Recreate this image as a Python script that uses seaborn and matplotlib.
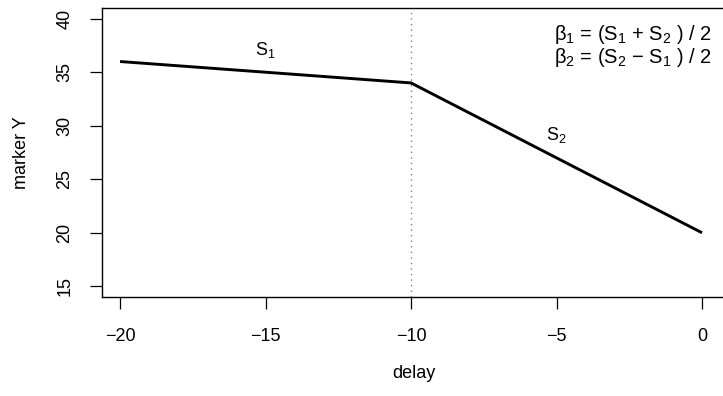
import matplotlib
matplotlib.use("Agg")
import matplotlib.pyplot as plt
import seaborn as sns
import pandas as pd

# Broken-stick trajectory: slope S1 before the change point, S2 after it
delay = [-20, -10, 0]
marker_y = [36, 34, 20]
change_point = -10

x_ticks = [-20, -15, -10, -5, 0]
y_ticks = [15, 20, 25, 30, 35, 40]

sns.set_style("ticks")
plt.rcParams["font.family"] = ["Liberation Sans", "DejaVu Sans"]
plt.rcParams["mathtext.fontset"] = "custom"
plt.rcParams["mathtext.rm"] = "Liberation Sans"
plt.rcParams["mathtext.it"] = "Liberation Sans"
plt.rcParams["mathtext.bf"] = "Liberation Sans:bold"
plt.rcParams["text.color"] = "black"
plt.rcParams["axes.labelcolor"] = "black"

fs = 13
fig = plt.figure(figsize=(7.23, 3.96), dpi=100)
ax = fig.add_axes([102 / 723, 1 - 297 / 396, 623 / 723, 289 / 396])

df = pd.DataFrame({"delay": delay, "marker Y": marker_y})
sns.lineplot(data=df, x="delay", y="marker Y", ax=ax, color="black",
             linewidth=2.1, solid_joinstyle="round", solid_capstyle="butt")

ax.axvline(change_point, color="#808080", linestyle=(0, (1, 3)), linewidth=1)

ax.set_xlim(-20.62, 0.79)
ax.set_ylim(14, 41)
ax.set_xticks(x_ticks)
ax.set_yticks(y_ticks)
ax.tick_params(axis="both", direction="out", length=8.5, width=0.9,
               color="black", labelsize=fs, labelcolor="black")
ax.tick_params(axis="x", pad=14)
ax.tick_params(axis="y", pad=12, labelrotation=90)
plt.setp(ax.get_yticklabels(), va="center")

for side in ["left", "bottom", "top", "right"]:
    ax.spines[side].set_visible(True)
    ax.spines[side].set_color("black")
    ax.spines[side].set_linewidth(1.0)

ax.set_xlabel("delay", fontsize=fs, labelpad=14, color="black")
ax.set_ylabel("marker Y", fontsize=fs, labelpad=19, color="black")

ax.text(-15, 37.1, r"S$_1$", fontsize=fs, ha="center", va="center")
ax.text(-5, 29.1, r"S$_2$", fontsize=fs, ha="center", va="center")

ax.text(0.35, 38.5, "\u03b2$_1$ = (S$_1$ + S$_2$ ) / 2", fontsize=14.5,
        ha="right", va="center")
ax.text(0.35, 36.35, "\u03b2$_2$ = (S$_2$ \u2212 S$_1$ ) / 2", fontsize=14.5,
        ha="right", va="center")

fig.savefig("out.png", dpi=100)
